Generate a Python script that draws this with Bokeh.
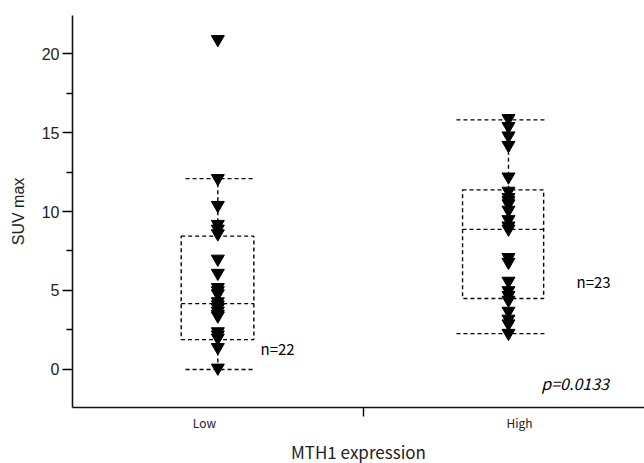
from bokeh.plotting import figure
from bokeh.models import FixedTicker, Range1d, ColumnDataSource
from bokeh.core.properties import value
from bokeh.embed import file_html
from bokeh.resources import INLINE

# ---- data ----
groups = ["Low", "High"]
group_pos = [0.5, 1.5]
label_pos = [0.454, 1.538]
divider_tick = [1.0]

low_values = [20.9, 12.1, 10.4, 9.2, 8.9, 8.6, 7.0, 6.1, 5.2, 5.0, 4.8,
              4.3, 4.1, 3.9, 3.7, 3.5, 3.4, 2.4, 2.2, 2.0, 1.4, 0.1]
high_values = [15.9, 15.4, 14.8, 14.2, 12.2, 11.3, 10.9, 10.7, 10.5, 10.1,
               9.5, 9.1, 8.9, 7.1, 6.8, 5.6, 5.0, 4.7, 4.4, 3.7, 3.2, 2.9, 2.3]

whisker_low = [0.0, 2.27]
q1 = [1.89, 4.49]
median = [4.17, 8.87]
q3 = [8.44, 11.37]
whisker_high = [12.08, 15.8]

n_labels = ["n=22", "n=23"]
p_label = "p=0.0133"

y_major = [0, 5, 10, 15, 20]
y_minor = [2.5, 7.5, 12.5, 17.5]

# ---- figure ----
p = figure(width=644, height=463, output_backend="svg", toolbar_location=None,
           x_range=Range1d(0, 1.968), y_range=Range1d(-2.41, 22.41),
           min_border_left=72, min_border_right=0, min_border_top=15,
           min_border_bottom=56, frame_width=572, frame_height=392)
p.outline_line_color = None
p.grid.visible = False
p.background_fill_color = "white"
p.border_fill_color = "white"

dash = "4 3"
lw = 1.4
# box geometry (style)
box_left = [0.374, 1.342]
box_right = [0.624, 1.621]
cap_left = [0.389, 1.321]
cap_right = [0.627, 1.627]

src = ColumnDataSource(dict(x=group_pos, bl=box_left, br=box_right,
                            cl=cap_left, cr=cap_right, wl=whisker_low,
                            q1=q1, med=median, q3=q3, wh=whisker_high))

p.quad(left="bl", right="br", bottom="q1", top="q3", source=src,
       fill_color=None, line_color="black", line_dash=dash, line_width=lw)
p.segment(x0="bl", x1="br", y0="med", y1="med", source=src,
          line_color="black", line_dash=dash, line_width=lw)
p.segment(x0="cl", x1="cr", y0="wh", y1="wh", source=src,
          line_color="black", line_dash=dash, line_width=lw)
p.segment(x0="cl", x1="cr", y0="wl", y1="wl", source=src,
          line_color="black", line_dash=dash, line_width=lw)
p.segment(x0="x", x1="x", y0="q3", y1="wh", source=src,
          line_color="black", line_dash=dash, line_width=lw)
p.segment(x0="x", x1="x", y0="wl", y1="q1", source=src,
          line_color="black", line_dash=dash, line_width=lw)

p.scatter([group_pos[0]] * len(low_values), low_values, marker="inverted_triangle",
          size=13, fill_color="black", line_color="black")
p.scatter([group_pos[1]] * len(high_values), high_values, marker="inverted_triangle",
          size=13, fill_color="black", line_color="black")

font_jp = "Noto Sans CJK JP"
p.text(x=[0.647, 1.734], y=[1.33, 5.54], text=n_labels,
       text_font=value(font_jp), text_font_size="15px", text_color="black",
       text_baseline="middle", text_align="left")
p.text(x=[1.613], y=[-0.89], text=[p_label], text_font=value(font_jp),
       text_font_style="italic", text_font_size="16px", text_color="black",
       text_baseline="middle", text_align="left")

# ---- axes ----
yax = p.yaxis[0]
yax.ticker = FixedTicker(ticks=y_major, minor_ticks=y_minor)
yax.axis_label = "SUV max"
yax.axis_label_text_font = "Liberation Sans"
yax.axis_label_text_font_style = "normal"
yax.axis_label_text_font_size = "16px"
yax.axis_label_text_color = "#222222"
yax.axis_label_standoff = 12
yax.major_label_text_font = "Liberation Sans"
yax.major_label_text_font_size = "16px"
yax.major_label_text_color = "#222222"
yax.major_label_standoff = 3
yax.major_tick_out = 10
yax.major_tick_in = 0
yax.minor_tick_out = 6
yax.minor_tick_in = 0
yax.axis_line_width = 1.6
yax.major_tick_line_width = 1.4
yax.minor_tick_line_width = 1.4
yax.axis_line_color = "#111111"

xax = p.xaxis[0]
xax.ticker = FixedTicker(ticks=label_pos, minor_ticks=divider_tick)
xax.major_label_overrides = {label_pos[0]: groups[0], label_pos[1]: groups[1]}
xax.major_tick_line_color = None
xax.major_tick_out = 0
xax.major_tick_in = 0
xax.minor_tick_out = 9
xax.minor_tick_in = 0
xax.minor_tick_line_width = 1.4
xax.major_label_standoff = -3
xax.major_label_text_font = font_jp
xax.major_label_text_font_size = "12px"
xax.major_label_text_color = "#222222"
xax.axis_label = "MTH1 expression"
xax.axis_label_text_font = font_jp
xax.axis_label_text_font_style = "normal"
xax.axis_label_text_font_size = "17px"
xax.axis_label_text_color = "#222222"
xax.axis_label_standoff = 5
xax.axis_line_width = 1.6
xax.axis_line_color = "#111111"

open("out.html", "w").write(file_html(p, INLINE))
